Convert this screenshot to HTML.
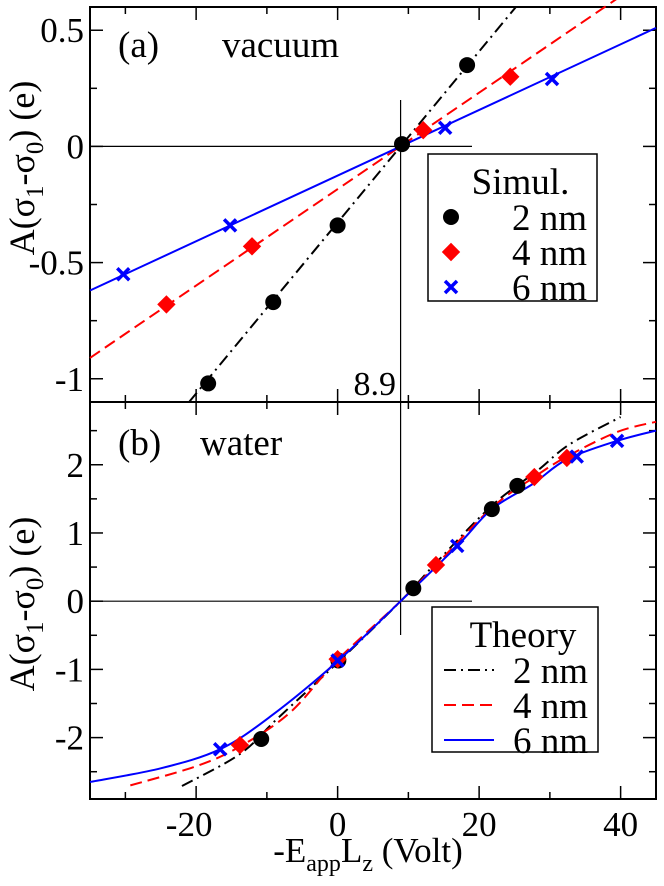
<!DOCTYPE html>
<html><head><meta charset="utf-8"><style>
html,body{margin:0;padding:0;background:#fff;}
svg{display:block;font-family:"Liberation Serif",serif;}
</style></head><body>
<svg id="chart" width="664" height="886" viewBox="0 0 664 886">
<g id="layer"></g>
<text x="118" y="57" font-size="37">(a)</text>
<text x="222" y="57" font-size="37">vacuum</text>
<text x="118" y="455" font-size="37">(b)</text>
<text x="200" y="455" font-size="37">water</text>
<text x="396" y="395" font-size="34" text-anchor="end">8.9</text>
<text x="368" y="862" font-size="35" text-anchor="middle">-E<tspan font-size="24" dy="9">app</tspan><tspan dy="-9">L</tspan><tspan font-size="24" dy="9">z</tspan><tspan dy="-9"> (Volt)</tspan></text>
<text transform="translate(34,168) rotate(-90)" font-size="36" text-anchor="middle">A(σ<tspan font-size="25" dy="9">1</tspan><tspan dy="-9">-σ</tspan><tspan font-size="25" dy="9">0</tspan><tspan dy="-9">) (e)</tspan></text>
<text transform="translate(34,604) rotate(-90)" font-size="36" text-anchor="middle">A(σ<tspan font-size="25" dy="9">1</tspan><tspan dy="-9">-σ</tspan><tspan font-size="25" dy="9">0</tspan><tspan dy="-9">) (e)</tspan></text>
</svg>
<script>
// ---- data ----
const xTicks=[-20,0,20,40];
const xTickLabels=["-20","0","20","40"];
const yTopTicks=[0.5,0,-0.5,-1];
const yTopTickLabels=["0.5","0","-0.5","-1"];
const yBotTicks=[2,1,0,-1,-2];
const yBotTickLabels=["2","1","0","-1","-2"];
const crossX=8.9;
// panel (a) simulation
const simA2x=[-18.3,-9.1,0,9.1,18.3], simA2y=[-1.02,-0.67,-0.34,0.01,0.35];
const simA4x=[-24.2,-12.1,12.1,24.4], simA4y=[-0.68,-0.43,0.07,0.30];
const simA6x=[-30.3,-15.2,15.2,30.3], simA6y=[-0.55,-0.34,0.08,0.29];
// panel (a) fit lines endpoints
const fitA2x=[-21,25.2], fitA2y=[-1.1,0.6];
const fitA4x=[-35,45], fitA4y=[-0.91,0.75];
const fitA6x=[-35,45], fitA6y=[-0.62,0.51];
// panel (b) simulation
const simB2x=[-10.8,0.1,10.7,21.8,25.4], simB2y=[-2.02,-0.87,0.19,1.35,1.69];
const simB4x=[-13.8,0,13.9,27.8,32.4], simB4y=[-2.11,-0.85,0.53,1.82,2.10];
const simB6x=[-16.6,0,16.9,33.8,39.5], simB6y=[-2.17,-0.87,0.81,2.12,2.35];
// panel (b) theory
const thB2x=[-22,-13.8,-8.6,0,8.9,13.9,21.8,28.2,32.8,40], thB2y=[-2.71,-2.24,-1.73,-0.9,0,0.56,1.40,1.91,2.30,2.70];
const thB4x=[-29.3,-20,-13.8,-6.7,0,8.9,13.9,21.8,27.8,32.4,39.5,45], thB4y=[-2.70,-2.42,-2.13,-1.63,-0.86,0,0.53,1.37,1.82,2.12,2.48,2.63];
const thB6x=[-35,-25,-16.6,-9.5,0,8.9,16.9,21.8,27.6,32.4,39.5,45], thB6y=[-2.65,-2.45,-2.17,-1.69,-0.88,0,0.81,1.35,1.72,2.08,2.35,2.50];

// ---- axes ----
const L=90,R=656,X0=-35,X1=45;
const A={top:7,bot:402,y0:0.6,y1:-1.1};
const B={top:402,bot:799,y0:2.92,y1:-2.9};
const sx=v=>L+(v-X0)/(X1-X0)*(R-L);
const sy=(p,v)=>p.top+(p.y0-v)/(p.y0-p.y1)*(p.bot-p.top);
const NS="http://www.w3.org/2000/svg";
const layer=document.getElementById('layer');
function mk(tag,attrs,parent){const e=document.createElementNS(NS,tag);for(const k in attrs)e.setAttribute(k,attrs[k]);(parent||layer).appendChild(e);return e;}

function panel(p,yt,ytl,name){
  const g=mk('g',{});
  
  
  const fr=mk('rect',{x:L,y:p.top,width:R-L,height:p.bot-p.top,fill:'none',stroke:'#000','stroke-width':2},g);
  
  
  for(let v=-30;v<=40;v+=10){
    const major=(v%20===0);const len=major?13:7;const x=sx(v);
    mk('line',{x1:x,y1:p.bot,x2:x,y2:p.bot-len,stroke:'#000','stroke-width':1.5},g);
    mk('line',{x1:x,y1:p.top,x2:x,y2:p.top+len,stroke:'#000','stroke-width':1.5},g);
  }
  const step=yt[0]-yt[1];
  for(let v=Math.ceil(p.y1/(step/2))*(step/2);v<=p.y0+1e-9;v+=step/2){
    const y=sy(p,v);const major=Math.abs(Math.round(v/step)*step-v)<1e-6;const len=major?13:7;
    mk('line',{x1:L,y1:y,x2:L+len,y2:y,stroke:'#000','stroke-width':1.5},g);
    mk('line',{x1:R,y1:y,x2:R-len,y2:y,stroke:'#000','stroke-width':1.5},g);
  }
  yt.forEach((v,i)=>{
    const t=mk('text',{x:L-6,y:sy(p,v)+12,'text-anchor':'end','font-size':35},g);
    t.textContent=ytl[i];
    
    
  });
  mk('line',{x1:L,y1:sy(p,0),x2:472,y2:sy(p,0),stroke:'#000','stroke-width':1.2},g);
  return g;
}
const gA=panel(A,yTopTicks,yTopTickLabels,'panel-a');
const gB=panel(B,yBotTicks,yBotTickLabels,'panel-b');
mk('line',{x1:sx(crossX),y1:100,x2:sx(crossX),y2:402,stroke:'#000','stroke-width':1.2},gA);
mk('line',{x1:sx(crossX),y1:402,x2:sx(crossX),y2:635,stroke:'#000','stroke-width':1.2},gB);

xTicks.forEach((v,i)=>{
  const t=mk('text',{x:sx(v)-(v<0?7:0),y:836,'text-anchor':'middle','font-size':35});
  t.textContent=xTickLabels[i];
  
  
});

const styles={
  '2':{c:'#000',dash:'12,5,2,5'},
  '4':{c:'#f00',dash:'12,6'},
  '6':{c:'#00f',dash:''}
};
function line(p,xs,ys,st,name,g){
  const d=xs.map((x,i)=>(i?'L':'M')+sx(x).toFixed(1)+','+sy(p,ys[i]).toFixed(1)).join(' ');
  const e=mk('path',{d:d,fill:'none',stroke:st.c,'stroke-width':2,'stroke-dasharray':st.dash,'stroke-linejoin':'round'},g);
  
  
}
function smooth(p,xs,ys,st,name,g){
  const P=xs.map((x,i)=>[sx(x),sy(p,ys[i])]);
  let d='M'+P[0][0]+','+P[0][1];
  for(let i=0;i<P.length-1;i++){
    const p0=P[Math.max(0,i-1)],p1=P[i],p2=P[i+1],p3=P[Math.min(P.length-1,i+2)];
    const c1=[p1[0]+(p2[0]-p0[0])/6,p1[1]+(p2[1]-p0[1])/6];
    const c2=[p2[0]-(p3[0]-p1[0])/6,p2[1]-(p3[1]-p1[1])/6];
    d+=' C'+c1.join(',')+' '+c2.join(',')+' '+p2.join(',');
  }
  const e=mk('path',{d:d,fill:'none',stroke:st.c,'stroke-width':2,'stroke-dasharray':st.dash},g);
  
  
}
function marker(type,cx,cy,g){
  let e;
  if(type==='2') e=mk('circle',{cx:cx,cy:cy,r:8,fill:'#000'},g);
  else if(type==='4') e=mk('rect',{x:cx-6.5,y:cy-6.5,width:13,height:13,fill:'#f00',transform:`rotate(45 ${cx} ${cy})`},g);
  else e=mk('path',{d:`M${cx-6},${cy-6}L${cx+6},${cy+6}M${cx+6},${cy-6}L${cx-6},${cy+6}`,stroke:'#00f','stroke-width':3.5,fill:'none'},g);
  return e;
}
function points(p,xs,ys,type,name,g){
  xs.forEach((x,i)=>{
    const e=marker(type,sx(x),sy(p,ys[i]),g);
    
    
  });
}
line(A,fitA2x,fitA2y,styles['2'],'fit-line-2nm',gA);
line(A,fitA4x,fitA4y,styles['4'],'fit-line-4nm',gA);
line(A,fitA6x,fitA6y,styles['6'],'fit-line-6nm',gA);
points(A,simA2x,simA2y,'2','sim-point-2nm',gA);
points(A,simA4x,simA4y,'4','sim-point-4nm',gA);
points(A,simA6x,simA6y,'6','sim-point-6nm',gA);
smooth(B,thB2x,thB2y,styles['2'],'theory-curve-2nm',gB);
smooth(B,thB4x,thB4y,styles['4'],'theory-curve-4nm',gB);
smooth(B,thB6x,thB6y,styles['6'],'theory-curve-6nm',gB);
points(B,simB2x,simB2y,'2','sim-point-2nm',gB);
points(B,simB4x,simB4y,'4','sim-point-4nm',gB);
points(B,simB6x,simB6y,'6','sim-point-6nm',gB);

function legend(x,y,w,h,title,kind,name){
  const g=mk('g',{});
  
  
  mk('rect',{x:x,y:y,width:w,height:h,fill:'#fff',stroke:'#000','stroke-width':1.5},g);
  const t=mk('text',{x:x+w/2+8,y:y+40,'text-anchor':'middle','font-size':37},g);
  t.textContent=title;
  ['2','4','6'].forEach((k,i)=>{
    const yy=y+75+i*35;
    if(kind==='pts') marker(k,x+23,yy-12,g);
    else mk('line',{x1:x+12,y1:yy-12,x2:x+62,y2:yy-12,stroke:styles[k].c,'stroke-width':2,'stroke-dasharray':styles[k].dash},g);
    const tt=mk('text',{x:x+w-10,y:yy+1,'text-anchor':'end','font-size':37},g);
    tt.textContent=k+' nm';
  });
}
legend(428,154,169,147,'Simul.','pts','legend-simulation');
legend(432,607,166,145,'Theory','lines','legend-theory');
</script>
</body></html>
